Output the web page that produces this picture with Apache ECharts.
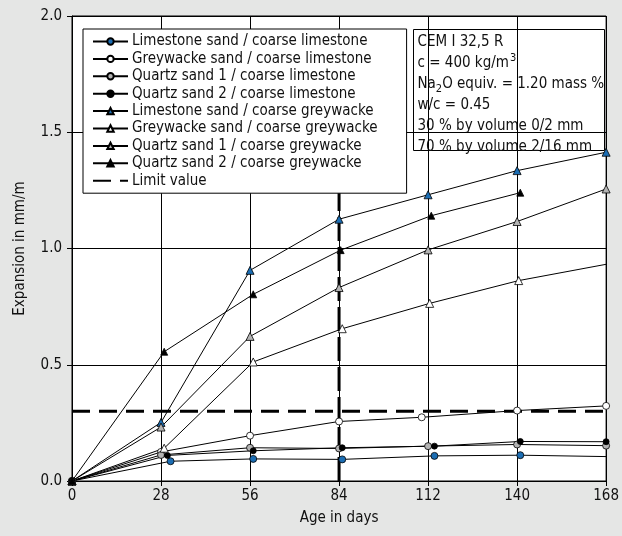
<!DOCTYPE html>
<html>
  <head>
    <meta charset="utf-8" />
    <title>Expansion</title>
    <script src="https://cdn.jsdelivr.net/npm/echarts@6/dist/echarts.min.js"></script>
    <style>
      html, body { margin: 0; padding: 0; background: #e5e6e5; }
    </style>
  </head>
  <body>
    <div id="main" style="width: 622px;height:536px;"></div>
    <script type="text/javascript">
      // ticks of the x axis (age in days)
      var dayTicks = [0, 28, 56, 84, 112, 140, 168];

      // series names, same order as the legend
      var names = [
        'Limestone sand / coarse limestone',
        'Greywacke sand / coarse limestone',
        'Quartz sand 1 / coarse limestone',
        'Quartz sand 2 / coarse limestone',
        'Limestone sand / coarse greywacke',
        'Greywacke sand / coarse greywacke',
        'Quartz sand 1 / coarse greywacke',
        'Quartz sand 2 / coarse greywacke'
      ];

      // [age in days, expansion in mm/m]
      var limestoneLimestone = [[0, 0], [31, 0.085], [57, 0.095], [85, 0.093], [114, 0.108], [141, 0.111], [168, 0.105]];
      var greywackeLimestone = [[0, 0], [28, 0.125], [56, 0.195], [84, 0.256], [110, 0.274], [140, 0.303], [168, 0.323]];
      var quartz1Limestone   = [[0, 0], [28, 0.112], [56, 0.143], [84, 0.140], [112, 0.150], [140, 0.157], [168, 0.152]];
      var quartz2Limestone   = [[0, 0], [30, 0.110], [57, 0.130], [85, 0.143], [114, 0.150], [141, 0.170], [168, 0.169]];
      var limestoneGreywacke = [[0, 0], [28, 0.252], [56, 0.906], [84, 1.126], [112, 1.231], [140, 1.335], [168, 1.414]];
      var greywackeGreywacke = [[0, 0], [29, 0.141], [57, 0.512], [85, 0.655], [112.5, 0.764], [140.5, 0.862], [168, 0.932]];
      var quartz1Greywacke   = [[0, 0], [28, 0.232], [56, 0.622], [84, 0.832], [112, 0.994], [140, 1.116], [168, 1.256]];
      var quartz2Greywacke   = [[0, 0], [29, 0.556], [57, 0.803], [84.5, 0.993], [113, 1.141], [141, 1.240]];

      // limit value: 0.3 mm/m, and the 84 day line (it runs up under the legend)
      var limitExpansion = 0.3;
      var limitDay = 84;
      var limitDayTop = 1.3;

      // series whose last point has no marker in the picture
      var noLastMarker = ['Limestone sand / coarse limestone', 'Greywacke sand / coarse greywacke'];

      var allData = [limestoneLimestone, greywackeLimestone, quartz1Limestone, quartz2Limestone,
                     limestoneGreywacke, greywackeGreywacke, quartz1Greywacke, quartz2Greywacke];

      var BLUE = '#1b6db3', GREY = '#b3b3b3';
      var looks = [
        ['circle', BLUE, 7], ['circle', '#fff', 7], ['circle', GREY, 7], ['circle', '#000', 6],
        ['triangle', BLUE, 8], ['triangle', '#fff', 8], ['triangle', GREY, 8], ['triangle', '#000', 7]
      ];

      // the original uses a condensed face: look for a narrow family, or a condensed width of an installed one
      var ctx = document.createElement('canvas').getContext('2d');
      var SAMPLE = 'Greywacke sand / coarse greywacke 0123456789';
      function widthOf(font) { ctx.font = '40px monospace'; ctx.font = font; return ctx.measureText(SAMPLE).width; }
      function hasFont(fam) {
        return ['monospace', 'serif'].some(function (b) {
          return widthOf('40px "' + fam + '", ' + b) !== widthOf('40px ' + b);
        });
      }
      var candidates = [
        ['Liberation Sans Narrow', ''], ['DejaVu Sans Condensed', ''], ['Roboto Condensed', ''],
        ['Noto Sans Condensed', ''], ['Open Sans Condensed', ''],
        ['Roboto', 'condensed'], ['Noto Sans', 'condensed'], ['Open Sans', 'condensed'],
        ['DejaVu Sans', 'condensed'], ['Liberation Sans', 'condensed'],
        ['Roboto', 'semi-condensed'], ['Noto Sans', 'semi-condensed'], ['Open Sans', 'semi-condensed']
      ];
      var pick = candidates.filter(function (c) {
        if (!hasFont(c[0])) return false;
        if (!c[1]) return true;
        return widthOf(c[1] + ' normal 40px "' + c[0] + '"') < 0.95 * widthOf('40px "' + c[0] + '"');
      })[0] || ['Roboto', ''];
      var FONT = '"' + pick[0] + '", sans-serif';
      var STRETCH = pick[1] || 'normal';
      ctx.font = STRETCH + ' normal 16px ' + FONT;
      // longest legend entry is about 244 px wide in the picture
      var FS = Math.min(19, Math.round(16 * 244 / ctx.measureText('Greywacke sand / coarse greywacke').width * 2) / 2);

      function txt(extra) {
        return Object.assign({ fontFamily: FONT, fontStyle: STRETCH, fontSize: FS, color: '#111' }, extra || {});
      }

      var myChart = echarts.init(document.getElementById('main'));

      var series = names.map(function (name, i) {
        var data = allData[i].map(function (p, k, arr) {
          if (k === arr.length - 1 && noLastMarker.indexOf(name) >= 0) return { value: p, symbol: 'none' };
          return p;
        });
        return {
          name: name,
          type: 'line',
          data: data,
          z: 3,
          symbol: looks[i][0],
          symbolSize: looks[i][2],
          lineStyle: { color: '#000', width: 1 },
          itemStyle: { color: looks[i][1], borderColor: '#000', borderWidth: 0.8 },
          emphasis: { disabled: true }
        };
      });

      var limitLook = {
        type: 'line',
        symbol: 'none',
        z: 2,
        itemStyle: { color: 'rgba(0,0,0,0)', borderWidth: 0 },
        emphasis: { disabled: true }
      };
      series.push(Object.assign({
        name: 'Limit value',
        data: [[0, limitExpansion], [168, limitExpansion]],
        lineStyle: { color: '#000', width: 3, type: [18, 9] }
      }, limitLook));
      series.push(Object.assign({
        name: 'Limit value',
        data: [[limitDay, 0], [limitDay, limitDayTop]],
        lineStyle: { color: '#000', width: 3, type: [24, 6] }
      }, limitLook));

      var option = {
        backgroundColor: '#e5e6e5',
        animation: false,
        textStyle: { fontFamily: FONT },
        grid: {
          left: 72, right: 15, top: 16, bottom: 55,
          show: true, backgroundColor: '#fff', borderColor: '#000', borderWidth: 1
        },
        legend: {
          data: names.concat(['Limit value']),
          orient: 'vertical',
          left: 83,
          top: 29,
          padding: [4, 29, 4, 9],
          itemWidth: 35,
          itemHeight: 8,
          itemGap: 0.4,
          backgroundColor: '#fff',
          borderColor: '#000',
          borderWidth: 1,
          selectedMode: false,
          textStyle: txt({ lineHeight: 17, padding: [0, 0, 0, -1] })
        },
        xAxis: {
          type: 'value',
          min: 0,
          max: 168,
          interval: 28,
          name: 'Age in days',
          nameLocation: 'middle',
          nameGap: 30,
          nameTextStyle: txt(),
          axisLine: { lineStyle: { color: '#000', width: 1 } },
          axisTick: { lineStyle: { color: '#000' }, length: 5 },
          axisLabel: txt({
            margin: 8,
            formatter: function (v) { return dayTicks.indexOf(v) >= 0 ? String(v) : ''; }
          }),
          splitLine: { show: true, lineStyle: { color: '#000', width: 1 } }
        },
        yAxis: {
          type: 'value',
          min: 0,
          max: 2,
          interval: 0.5,
          name: 'Expansion in mm/m',
          nameLocation: 'middle',
          nameGap: 44,
          nameTextStyle: txt(),
          axisLine: { show: true, lineStyle: { color: '#000', width: 1 } },
          axisTick: { show: true, lineStyle: { color: '#000' }, length: 5 },
          axisLabel: txt({
            margin: 10,
            formatter: function (v) { return v.toFixed(1); }
          }),
          splitLine: { show: true, lineStyle: { color: '#000', width: 1 } }
        },
        graphic: [{
          type: 'group',
          left: 413,
          top: 29,
          z: 10,
          children: [{
            type: 'rect',
            shape: { x: 0, y: 0, width: 191, height: 121 },
            style: { fill: '#fff', stroke: '#000', lineWidth: 1 }
          }, {
            type: 'text',
            x: 4,
            y: 2,
            style: {
              text: '{a|CEM I 32,5 R}\n' +
                    '{a|c = 400 kg/m}{sup|3}\n' +
                    '{a|Na}{sub|2}{a|O equiv. = 1.20 mass %}\n' +
                    '{a|w/c = 0.45}\n' +
                    '{a|30 % by volume 0/2 mm}\n' +
                    '{a|70 % by volume 2/16 mm}',
              fill: '#111',
              font: STRETCH + ' normal ' + FS + 'px ' + FONT,
              lineHeight: 21,
              rich: {
                a: { fontFamily: FONT, fontStyle: STRETCH, fontSize: FS, lineHeight: 21, fill: '#111' },
                sup: { fontFamily: FONT, fontStyle: STRETCH, fontSize: FS - 4, lineHeight: 21, fill: '#111', verticalAlign: 'top', padding: [0, 0, 6, 1] },
                sub: { fontFamily: FONT, fontStyle: STRETCH, fontSize: FS - 4, lineHeight: 21, fill: '#111', verticalAlign: 'bottom', padding: [6, 0, 0, 0] }
              }
            }
          }]
        }],
        series: series
      };

      myChart.setOption(option);
    </script>
  </body>
</html>
